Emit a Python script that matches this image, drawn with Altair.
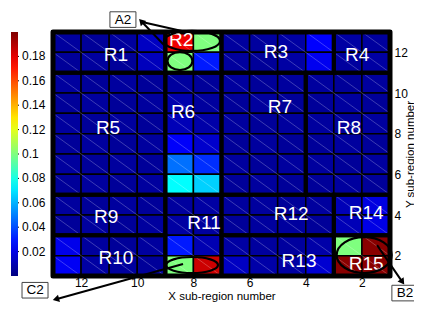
import math
import altair as alt
import pandas as pd

# ---------------- data ----------------
x_cols = [12, 11, 10, 9, 8, 7, 6, 5, 4, 3, 2, 1]      # lower edge of each column, left -> right
y_rows = [12, 11, 10, 9, 8, 7, 6, 5, 4, 3, 2, 1]      # lower edge of each row, top -> bottom
values = [
    [0.006, 0.005, 0.006, 0.013, 0.178, 0.100, 0.006, 0.006, 0.007, 0.025, 0.007, 0.006],
    [0.005, 0.006, 0.005, 0.012, 0.100, 0.030, 0.006, 0.005, 0.007, 0.022, 0.006, 0.007],
    [0.006, 0.005, 0.006, 0.005, 0.006, 0.005, 0.006, 0.005, 0.006, 0.006, 0.005, 0.006],
    [0.005, 0.006, 0.005, 0.006, 0.009, 0.006, 0.005, 0.006, 0.005, 0.005, 0.006, 0.005],
    [0.006, 0.005, 0.006, 0.005, 0.011, 0.008, 0.006, 0.005, 0.006, 0.006, 0.005, 0.006],
    [0.005, 0.006, 0.005, 0.006, 0.024, 0.015, 0.005, 0.006, 0.005, 0.005, 0.006, 0.005],
    [0.006, 0.005, 0.006, 0.005, 0.047, 0.034, 0.006, 0.005, 0.006, 0.006, 0.005, 0.006],
    [0.005, 0.006, 0.005, 0.006, 0.075, 0.066, 0.005, 0.006, 0.005, 0.005, 0.006, 0.005],
    [0.006, 0.005, 0.006, 0.005, 0.006, 0.007, 0.006, 0.006, 0.005, 0.006, 0.011, 0.019],
    [0.005, 0.006, 0.005, 0.006, 0.007, 0.006, 0.005, 0.006, 0.006, 0.005, 0.011, 0.020],
    [0.021, 0.006, 0.005, 0.006, 0.030, 0.010, 0.007, 0.006, 0.006, 0.008, 0.100, 0.198],
    [0.023, 0.007, 0.006, 0.005, 0.100, 0.185, 0.013, 0.008, 0.007, 0.016, 0.198, 0.198],
]

region_names = ["R1", "R2", "R3", "R4", "R5", "R6", "R7", "R8",
                "R9", "R10", "R11", "R12", "R13", "R14", "R15"]
region_x1 = [9, 7, 3, 1, 9, 7, 4, 1, 9, 9, 7, 3, 3, 1, 1]
region_x2 = [13, 9, 7, 3, 13, 9, 7, 4, 13, 13, 9, 7, 7, 3, 3]
region_y1 = [11, 11, 11, 11, 5, 5, 5, 5, 3, 1, 1, 3, 1, 3, 1]
region_y2 = [13, 13, 13, 13, 11, 11, 11, 11, 5, 3, 5, 5, 3, 5, 3]
label_x = [10.76, 8.44, 5.06, 2.17, 11.04, 8.37, 4.92, 2.46, 11.11, 10.76, 7.62, 4.52, 4.24, 1.85, 1.85]
label_y = [11.87, 12.60, 12.00, 11.87, 8.28, 9.07, 9.31, 8.28, 3.90, 1.88, 3.60, 4.05, 1.74, 4.10, 1.59]

# ellipse annotations: centre (data units), width/height (px)
ell_x = [8.05, 8.48, 8.05, 1.92]
ell_y = [12.56, 11.57, 1.54, 2.03]
ell_w = [56, 25, 52, 55]
ell_h = [20, 18, 16, 36]

# call-out boxes
box_text = ["A2", "C2", "B2"]
box_x = [10.51, 13.64, 0.47]
box_y = [13.61, 0.30, 0.16]
# arrows: tail -> head
arr_tx = [8.98, 8.37, 1.46]
arr_ty = [12.26, 1.59, 2.52]
arr_hx = [9.83, 12.86, 0.58]
arr_hy = [13.49, -0.13, 0.75]
extra_seg = dict(x=[9.83], y=[13.49], x2=[8.41], y2=[13.05])

cbar_ticks = [0.02, 0.04, 0.06, 0.08, 0.1, 0.12, 0.14, 0.16, 0.18]
jet = ["#00007F", "#0000FF", "#007FFF", "#00FFFF", "#7FFF7F",
       "#FFFF00", "#FF7F00", "#FF0000", "#7F0000"]

# ---------------- layout ----------------
W, H = 337, 244
FONT = "Liberation Sans"
CMAX = 0.2

rows = []
for r, yv in enumerate(y_rows):
    for c, xv in enumerate(x_cols):
        rows.append(dict(x=xv, x2=xv + 1, y=yv, y2=yv + 1, v=values[r][c]))
cells = pd.DataFrame(rows)

xs = alt.Scale(domain=[1, 13], reverse=True, nice=False, zero=False)
ys = alt.Scale(domain=[1, 13], nice=False, zero=False)

heat = alt.Chart(cells).mark_rect(stroke="black", strokeWidth=1.5).encode(
    x=alt.X("x:Q", scale=xs, axis=alt.Axis(
        values=[2, 4, 6, 8, 10, 12], title="X sub-region number", ticks=False,
        domain=False, grid=False, labelFontSize=12, titleFontSize=11.5,
        labelPadding=1, titleY=23.5, titleBaseline="alphabetic",
        labelFont=FONT, titleFont=FONT,
        titleFontWeight="normal", labelColor="black", titleColor="black")),
    x2="x2:Q",
    y=alt.Y("y:Q", scale=ys, axis=alt.Axis(
        orient="right", values=[2, 4, 6, 8, 10, 12], title="Y sub-region number",
        ticks=False, domain=False, grid=False, labelFontSize=12, titleFontSize=11.5,
        labelPadding=4, titleAngle=270, titleX=20, titleY=H / 2,
        titleAlign="center", titleBaseline="middle", labelFont=FONT, titleFont=FONT,
        titleFontWeight="normal", labelColor="black", titleColor="black")),
    y2="y2:Q",
    color=alt.Color("v:Q", scale=alt.Scale(domain=[0, CMAX], range=jet, interpolate="rgb"),
                    legend=alt.Legend(orient="none", legendX=-42, legendY=0, title=None,
                                      direction="vertical", gradientLength=H,
                                      gradientThickness=7, values=cbar_ticks, format="~g",
                                      labelFontSize=12, labelFont=FONT, labelOffset=4,
                                      labelOverlap=False, padding=0, labelColor="black",
                                      gradientStrokeWidth=0)),
)

diag = alt.Chart(cells).mark_rule(color="white", opacity=0.3, strokeWidth=0.8).encode(
    x="x2:Q", y="y2:Q", x2="x:Q", y2="y:Q")

regions = pd.DataFrame(dict(name=region_names, x1=region_x1, x2=region_x2,
                            y1=region_y1, y2=region_y2, lx=label_x, ly=label_y))
reg = alt.Chart(regions).mark_rect(fillOpacity=0, stroke="black", strokeWidth=4).encode(
    x="x1:Q", x2="x2:Q", y="y1:Q", y2="y2:Q")
frame = alt.Chart(pd.DataFrame(dict(a=[1], b=[13]))).mark_rect(
    fillOpacity=0, stroke="black", strokeWidth=5, strokeJoin="round").encode(
    x="a:Q", x2="b:Q", y="a:Q", y2="b:Q")
labels = alt.Chart(regions).mark_text(color="white", fontSize=19, font=FONT).encode(
    x="lx:Q", y="ly:Q", text="name:N")

# colour-bar tick dashes (placed at the bar's right edge, left of the plot)
cb = pd.DataFrame(dict(v=cbar_ticks))
cb["y"] = 1 + cb["v"] / CMAX * 12
cticks = alt.Chart(cb).mark_rule(color="black", strokeWidth=1).encode(
    x=alt.value(-37), x2=alt.value(-34), y="y:Q")

layers = [heat, diag, reg, frame, labels, cticks]

for ex, ey, ew, eh in zip(ell_x, ell_y, ell_w, ell_h):
    r = eh / ew
    path = f"M -1 0 A 1 {r:.3f} 0 1 1 1 0 A 1 {r:.3f} 0 1 1 -1 0 Z"
    layers.append(alt.Chart(pd.DataFrame(dict(x=[ex], y=[ey]))).mark_point(
        shape=path, size=ew * ew, filled=False, stroke="black", strokeWidth=2.2,
        opacity=1).encode(x="x:Q", y="y:Q"))

arrows = pd.DataFrame(dict(x=arr_tx, y=arr_ty, x2=arr_hx, y2=arr_hy))
layers.append(alt.Chart(arrows).mark_rule(color="black", strokeWidth=2).encode(
    x="x:Q", y="y:Q", x2="x2:Q", y2="y2:Q"))
layers.append(alt.Chart(pd.DataFrame(extra_seg)).mark_rule(color="black", strokeWidth=2).encode(
    x="x:Q", y="y:Q", x2="x2:Q", y2="y2:Q"))

for tx, ty, hx, hy in zip(arr_tx, arr_ty, arr_hx, arr_hy):
    dpx = -(hx - tx) * W / 12
    dpy = -(hy - ty) * H / 12
    ang = math.degrees(math.atan2(dpx, -dpy)) % 360
    layers.append(alt.Chart(pd.DataFrame(dict(x=[hx], y=[hy]))).mark_point(
        shape="triangle", size=55, filled=True, color="black", opacity=1,
        angle=ang).encode(x="x:Q", y="y:Q"))

boxes = pd.DataFrame(dict(t=box_text, x=box_x, y=box_y))
box_path = "M -1 -0.6 L 1 -0.6 L 1 0.6 L -1 0.6 Z"
layers.append(alt.Chart(boxes).mark_point(
    shape=box_path, size=26 * 26, filled=True, fill="white", stroke="#444",
    strokeWidth=1, opacity=1).encode(x="x:Q", y="y:Q"))
layers.append(alt.Chart(boxes).mark_text(fontSize=13.5, font=FONT, color="black").encode(
    x="x:Q", y="y:Q", text="t:N"))

chart = alt.layer(*layers).properties(
    width=W, height=H,
    autosize=alt.AutoSizeParams(type="none"),
    padding={"left": 45, "top": 24, "right": 24, "bottom": 26},
).configure_view(stroke=None).configure(background="white")

chart.save("out.html", embed_options={"renderer": "svg", "actions": False})
